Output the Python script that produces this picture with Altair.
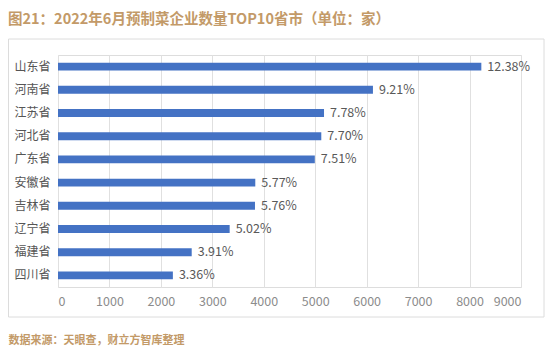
import altair as alt
import pandas as pd

provinces = ["山东省", "河南省", "江苏省", "河北省", "广东省", "安徽省", "吉林省", "辽宁省", "福建省", "四川省"]
counts = [8229, 6122, 5171, 5118, 4992, 3835, 3829, 3337, 2599, 2233]
shares = ["12.38%", "9.21%", "7.78%", "7.70%", "7.51%", "5.77%", "5.76%", "5.02%", "3.91%", "3.36%"]
x_ticks = [0, 1000, 2000, 3000, 4000, 5000, 6000, 7000, 8000, 9000]

df = pd.DataFrame({"province": provinces, "count": counts, "share": shares})

FONT = "Noto Sans CJK SC"
GOLD = "#C39A68"

frame = alt.Chart(pd.DataFrame({"d": [0]})).mark_rect(
    fill="transparent", stroke="#dcdcdc", strokeWidth=1
).encode(
    x=alt.value(-49.5), x2=alt.value(486), y=alt.value(-16), y2=alt.value(262)
)

y_enc = alt.Y("province:N", sort=provinces, title=None,
              scale=alt.Scale(paddingInner=0.66, paddingOuter=0.33),
              axis=alt.Axis(domain=False, ticks=False, labelFont=FONT, labelFontSize=12,
                            labelColor="#555555", labelPadding=8))
x_enc = alt.X("count:Q", scale=alt.Scale(domain=[0, 9000], nice=False),
              title="数据来源：天眼查，财立方智库整理",
              axis=alt.Axis(values=x_ticks, format="d", domain=False, ticks=False, grid=True,
                            gridColor="#e0e0e0", labelFont=FONT, labelFontSize=12.5,
                            labelColor="#8c8c8c", labelPadding=8,
                            titleFont=FONT, titleFontSize=11, titleFontWeight="bold",
                            titleColor=GOLD, titleAlign="left", titleAnchor="start",
                            titleX=-50, titleY=53, titleBaseline="middle"))

bars = alt.Chart(df).mark_bar(color="#4472C4").encode(x=x_enc, y=y_enc)

labels = alt.Chart(df).mark_text(
    align="left", dx=6, font=FONT, fontSize=12.5, color="#595959"
).encode(x="count:Q", y=alt.Y("province:N", sort=provinces), text="share:N")

chart = alt.layer(frame, bars, labels).properties(
    width=463, height=232,
    padding={"left": 50, "top": 47, "right": 24, "bottom": 61},
    autosize=alt.AutoSizeParams(type="none"),
    title=alt.Title("图21：2022年6月预制菜企业数量TOP10省市（单位：家）",
                    anchor="start", frame="group", dx=-50, offset=11,
                    font=FONT, fontSize=14.5, fontWeight="bold", color=GOLD),
).configure_view(stroke=None).configure(background="white")

chart.save("out.html", embed_options={"renderer": "svg", "actions": False})
